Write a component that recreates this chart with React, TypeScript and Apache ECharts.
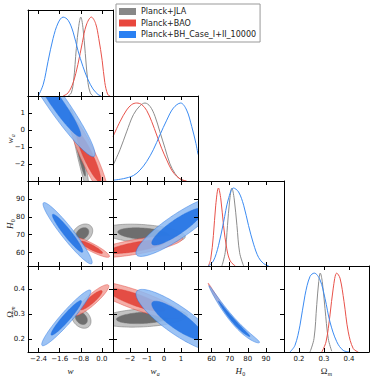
import React, { useEffect, useRef } from 'react';
import * as echarts from 'echarts';

// ---------- data ----------
const NAMES = ['Planck+JLA', 'Planck+BAO', 'Planck+BH_Case_I+II_10000'];

const W_TICKS = [-2.4, -1.6, -0.8, 0.0];
const WA_TICKS = [-2, -1, 0, 1];
const H0_TICKS = [60, 70, 80, 90];
const OM_TICKS = [0.2, 0.3, 0.4];

const W_RANGE = [-2.8, 0.42];
const WA_RANGE = [-3, 2];
const H0_RANGE = [52.5, 100];
const OM_X_RANGE = [0.14, 0.48];
const OM_Y_RANGE = [0.15, 0.49];

// 1D marginals: [parameter value, relative density]
const W_1D_JLA = [[-1.28, 0], [-1.16, 0.04], [-1.07, 0.2], [-0.97, 0.6], [-0.88, 0.88], [-0.8, 1.0], [-0.72, 0.87], [-0.63, 0.54], [-0.53, 0.17], [-0.44, 0.04], [-0.34, 0]];
const W_1D_BAO = [[-1.47, 0], [-1.28, 0.04], [-1.09, 0.17], [-0.91, 0.4], [-0.74, 0.68], [-0.59, 0.9], [-0.4, 1.0], [-0.24, 0.92], [-0.12, 0.73], [0.01, 0.45], [0.11, 0.17], [0.22, 0.02], [0.31, 0]];
const W_1D_BH = [[-2.41, 0], [-2.22, 0.15], [-2.04, 0.44], [-1.85, 0.73], [-1.66, 0.925], [-1.47, 1.0], [-1.28, 0.96], [-1.09, 0.81], [-0.91, 0.58], [-0.72, 0.375], [-0.53, 0.21], [-0.34, 0.09], [-0.15, 0.02], [-0.03, 0]];

const WA_1D_JLA = [[-3.0, 0.2], [-2.59, 0.4], [-2.2, 0.63], [-1.8, 0.85], [-1.41, 0.965], [-1.12, 1.0], [-0.82, 0.957], [-0.53, 0.83], [-0.24, 0.63], [0.06, 0.42], [0.35, 0.22], [0.65, 0.095], [0.94, 0.026], [1.24, 0]];
const WA_1D_BAO = [[-3.0, 0.57], [-2.59, 0.76], [-2.2, 0.91], [-1.9, 0.98], [-1.61, 1.0], [-1.31, 0.98], [-1.02, 0.905], [-0.72, 0.76], [-0.43, 0.59], [-0.14, 0.42], [0.16, 0.27], [0.45, 0.14], [0.75, 0.06], [1.04, 0.017], [1.33, 0]];
const WA_1D_BH = [[-3.0, 0.01], [-2.39, 0.03], [-1.8, 0.07], [-1.41, 0.14], [-1.02, 0.25], [-0.63, 0.4], [-0.24, 0.59], [0.16, 0.78], [0.55, 0.935], [0.98, 1.0], [1.33, 0.91], [1.63, 0.7], [1.88, 0.48], [2.0, 0.34]];

const H0_1D_JLA = [[65.7, 0], [67.5, 0.17], [68.8, 0.52], [69.9, 0.82], [71.2, 1.0], [72.5, 0.86], [74.0, 0.52], [75.5, 0.17], [77.7, 0]];
const H0_1D_BAO = [[58.2, 0], [59.5, 0.086], [61.0, 0.39], [62.3, 0.78], [63.8, 1.0], [65.1, 0.86], [66.6, 0.52], [68.4, 0.22], [70.3, 0.065], [73.1, 0]];
const H0_1D_BH = [[58.2, 0], [61.0, 0.065], [63.8, 0.26], [66.6, 0.56], [69.3, 0.86], [72.1, 1.0], [74.9, 0.95], [77.7, 0.78], [80.4, 0.52], [83.2, 0.28], [86.0, 0.108], [88.8, 0.03], [91.6, 0]];

const OM_1D_JLA = [[0.244, 0], [0.26, 0.17], [0.271, 0.6], [0.279, 0.894], [0.285, 1.0], [0.293, 0.894], [0.304, 0.55], [0.317, 0.17], [0.331, 0.01]];
const OM_1D_BAO = [[0.291, 0], [0.308, 0.128], [0.324, 0.47], [0.337, 0.81], [0.351, 1.0], [0.364, 0.936], [0.38, 0.64], [0.397, 0.255], [0.417, 0.043], [0.437, 0]];
const OM_1D_BH = [[0.164, 0], [0.184, 0.085], [0.204, 0.34], [0.224, 0.72], [0.244, 0.957], [0.261, 1.0], [0.284, 0.915], [0.304, 0.68], [0.324, 0.38], [0.351, 0.13], [0.377, 0.02], [0.404, 0]];

// 2D contours: [meanX, meanY, sigmaX, sigmaY, correlation, bend]
const W_WA_JLA = [-0.85, -1.2, 0.15, 1.0, -0.94, 0];
const W_WA_BAO = [-0.5, -1.6, 0.3, 0.95, -0.9, 0];
const W_WA_BH = [-1.68, 1.54, 0.58, 1.27, -0.95, 0];

const W_H0_JLA = [-0.74, 70.6, 0.16, 2.2, 0.3, 0];
const W_H0_BAO = [-0.4, 63, 0.28, 2.3, -0.9, 0];
const W_H0_BH = [-1.3, 70.8, 0.38, 7.0, -0.95, 0];

const W_OM_JLA = [-0.78, 0.283, 0.15, 0.016, -0.3, 0];
const W_OM_BAO = [-0.4, 0.355, 0.27, 0.025, 0.9, 0];
const W_OM_BH = [-1.35, 0.285, 0.38, 0.045, 0.95, 0];

const WA_H0_JLA = [-1.2, 70.5, 1.0, 2.2, -0.3, 0];
const WA_H0_BAO = [-1.6, 63.3, 1.1, 2.5, 0.73, 0];
const WA_H0_BH = [0.8, 74.5, 1.0, 6.8, 0.88, 0];

const WA_OM_JLA = [-1.2, 0.285, 1.05, 0.015, 0.25, 0];
const WA_OM_BAO = [-1.6, 0.355, 1.1, 0.03, -0.84, 0];
const WA_OM_BH = [0.8, 0.275, 1.0, 0.05, -0.85, 0];

const H0_OM_JLA = [71, 0.285, 2.3, 0.018, -0.985, 0.0009];
const H0_OM_BAO = [63.5, 0.356, 2.2, 0.024, -0.99, 0.00125];
const H0_OM_BH = [72.5, 0.27, 5.7, 0.046, -0.99, 0.005];

// ---------- styling ----------
const LINE_COLORS = ['#8c8c8c', '#e8524a', '#3b8bf2'];
const INNER_COLORS = ['#6e6e6e', '#e03c32', '#1c6fe3'];
const OUTER_COLORS = ['#c3c3c3', '#f2a099', '#8cb8f2'];
const LEGEND_COLORS = ['#888888', '#e8473d', '#2a80f2'];
const FILL_OPACITY = [1, 0.85, 0.85];

const COLS = [{ l: 28, w: 85 }, { l: 113, w: 85 }, { l: 198, w: 86 }, { l: 284, w: 85 }];
const ROWS = [{ t: 10, h: 86 }, { t: 96, h: 85 }, { t: 181, h: 85 }, { t: 266, h: 86 }];

const minus = (s: string) => s.replace('-', '\u2212');

const X_INFO = [
  { range: W_RANGE, ticks: W_TICKS, fmt: (v: number) => minus(v.toFixed(1)) },
  { range: WA_RANGE, ticks: WA_TICKS, fmt: (v: number) => minus(String(v)) },
  { range: H0_RANGE, ticks: H0_TICKS, fmt: (v: number) => String(v) },
  { range: OM_X_RANGE, ticks: OM_TICKS, fmt: (v: number) => v.toFixed(1) },
];
const Y_INFO = [
  null,
  { range: WA_RANGE, ticks: WA_TICKS, fmt: (v: number) => minus(String(v)) },
  { range: H0_RANGE, ticks: H0_TICKS, fmt: (v: number) => String(v) },
  { range: OM_Y_RANGE, ticks: OM_TICKS, fmt: (v: number) => v.toFixed(1) },
];

const MARGINALS: Record<number, number[][][]> = {
  0: [W_1D_JLA, W_1D_BAO, W_1D_BH],
  1: [WA_1D_JLA, WA_1D_BAO, WA_1D_BH],
  2: [H0_1D_JLA, H0_1D_BAO, H0_1D_BH],
  3: [OM_1D_JLA, OM_1D_BAO, OM_1D_BH],
};
const CONTOURS: Record<string, number[][]> = {
  '1-0': [W_WA_JLA, W_WA_BAO, W_WA_BH],
  '2-0': [W_H0_JLA, W_H0_BAO, W_H0_BH],
  '3-0': [W_OM_JLA, W_OM_BAO, W_OM_BH],
  '2-1': [WA_H0_JLA, WA_H0_BAO, WA_H0_BH],
  '3-1': [WA_OM_JLA, WA_OM_BAO, WA_OM_BH],
  '3-2': [H0_OM_JLA, H0_OM_BAO, H0_OM_BH],
};

const FONT = 'DejaVu Sans';
const LEVEL_RADII = [2.45, 1.52]; // 95% and 68% for 2 dof

function makeRender(k: number) {
  return (_params: any, api: any) => {
    const mx = api.value(0), my = api.value(1), sx = api.value(2), sy = api.value(3);
    const rho = api.value(4), bend = api.value(5);
    const q = Math.sqrt(1 - rho * rho);
    const ring = (r: number) => {
      const pts: number[][] = [];
      const N = 140;
      for (let i = 0; i < N; i++) {
        const t = (i / N) * Math.PI * 2;
        const u = r * Math.cos(t), v = r * Math.sin(t);
        pts.push(api.coord([mx + sx * u, my + sy * (rho * u + q * v) + bend * u * u]));
      }
      return pts;
    };
    return {
      type: 'group',
      children: [
        { type: 'polygon', shape: { points: ring(LEVEL_RADII[0]) }, style: { fill: OUTER_COLORS[k], stroke: INNER_COLORS[k], lineWidth: 0.5, opacity: FILL_OPACITY[k] } },
        { type: 'polygon', shape: { points: ring(LEVEL_RADII[1]) }, style: { fill: INNER_COLORS[k], stroke: INNER_COLORS[k], lineWidth: 0.5, opacity: FILL_OPACITY[k] } },
      ],
    };
  };
}

function axisBase(range: number[], ticks: number[] | null, fmt: any, showLabel: boolean, position: string, gridIndex: number, margin: number) {
  return {
    gridIndex,
    type: 'value',
    min: range[0],
    max: range[1],
    position,
    z: 5,
    axisLine: { show: true, onZero: false, lineStyle: { color: '#000', width: 1 } },
    axisTick: ticks
      ? { show: true, inside: true, length: 4, customValues: ticks, lineStyle: { color: '#000', width: 1 } }
      : { show: false },
    axisLabel: ticks
      ? { show: showLabel, customValues: ticks, formatter: fmt, fontSize: 7, fontFamily: FONT, color: '#111', margin }
      : { show: false },
    splitLine: { show: false },
  };
}

function buildOption() {
  const grid: any[] = [];
  const xAxis: any[] = [];
  const yAxis: any[] = [];
  const series: any[] = [];
  let g = 0;
  for (let r = 0; r < 4; r++) {
    for (let c = 0; c <= r; c++) {
      grid.push({ left: COLS[c].l, top: ROWS[r].t, width: COLS[c].w, height: ROWS[r].h });
      const xi = X_INFO[c];
      xAxis.push(axisBase(xi.range, xi.ticks, xi.fmt, r === 3, 'bottom', g, 3));
      xAxis.push(axisBase(xi.range, xi.ticks, xi.fmt, false, 'top', g, 3));
      if (r === c) {
        yAxis.push(axisBase([0, 1.09], null, null, false, 'left', g, 3));
        yAxis.push(axisBase([0, 1.09], null, null, false, 'right', g, 3));
        MARGINALS[c].forEach((d, k) => {
          series.push({
            type: 'line',
            xAxisIndex: 2 * g,
            yAxisIndex: 2 * g,
            data: d,
            smooth: 0.35,
            showSymbol: false,
            clip: true,
            silent: true,
            lineStyle: { color: LINE_COLORS[k], width: 1 },
            z: 2 + k,
          });
        });
      } else {
        const yi = Y_INFO[r]!;
        yAxis.push(axisBase(yi.range, yi.ticks, yi.fmt, c === 0, 'left', g, 3));
        yAxis.push(axisBase(yi.range, yi.ticks, yi.fmt, false, 'right', g, 3));
        CONTOURS[`${r}-${c}`].forEach((e, k) => {
          series.push({
            type: 'custom',
            name: NAMES[k],
            coordinateSystem: 'cartesian2d',
            xAxisIndex: 2 * g,
            yAxisIndex: 2 * g,
            data: [e],
            renderItem: makeRender(k),
            clip: true,
            silent: true,
            itemStyle: { color: LEGEND_COLORS[k] },
            z: 2 + k,
          });
        });
      }
      g++;
    }
  }

  const serif = '"Liberation Serif", "DejaVu Serif", serif';
  const title = (x: number, y: number, main: string, sub: string, italicMain: boolean, rotate: boolean) => ({
    type: 'group',
    x,
    y,
    rotation: rotate ? Math.PI / 2 : 0,
    silent: true,
    children: [
      {
        type: 'text',
        x: sub ? 1 : 0,
        y: 0,
        style: {
          text: main,
          font: `${italicMain ? 'italic ' : ''}9px ${serif}`,
          fill: '#222',
          align: sub ? 'right' : 'center',
          verticalAlign: 'middle',
        },
      },
      ...(sub
        ? [{
            type: 'text',
            x: 1.2,
            y: 2.5,
            style: { text: sub, font: `${sub === 'm' || sub === 'a' ? 'italic ' : ''}6px ${serif}`, fill: '#222', align: 'left', verticalAlign: 'middle' },
          }]
        : []),
    ],
  });

  const graphic = [
    title(70.5, 371, 'w', '', true, false),
    title(155.5, 371, 'w', 'a', true, false),
    title(241, 371, 'H', '0', true, false),
    title(326.5, 371, '\u03A9', 'm', false, false),
    title(10, 138.5, 'w', 'a', true, true),
    title(10, 223.5, 'H', '0', true, true),
    title(10, 312, '\u03A9', 'm', false, true),
  ];

  return {
    animation: false,
    backgroundColor: '#fff',
    grid,
    xAxis,
    yAxis,
    series,
    graphic,
    legend: {
      left: 116,
      top: 4,
      orient: 'vertical',
      icon: 'rect',
      itemWidth: 17,
      itemHeight: 7,
      itemGap: 2.5,
      padding: [3, 4, 3, 3],
      borderColor: '#999',
      borderWidth: 1,
      backgroundColor: '#fff',
      selectedMode: false,
      textStyle: { fontSize: 8, fontFamily: FONT, color: '#222', lineHeight: 9 },
      data: NAMES.map((n, k) => ({ name: n, itemStyle: { color: LEGEND_COLORS[k], borderWidth: 0 } })),
    },
  };
}

export default function App() {
  const ref = useRef<HTMLDivElement>(null);
  useEffect(() => {
    if (!ref.current) return;
    const chart = echarts.init(ref.current, null, { renderer: 'svg', width: 374, height: 380 });
    chart.setOption(buildOption() as any);
    return () => chart.dispose();
  }, []);
  return (
    <div
      ref={ref}
      style={{ position: 'fixed', left: 0, top: 0, width: 374, height: 380, background: '#fff' }}
    />
  );
}
